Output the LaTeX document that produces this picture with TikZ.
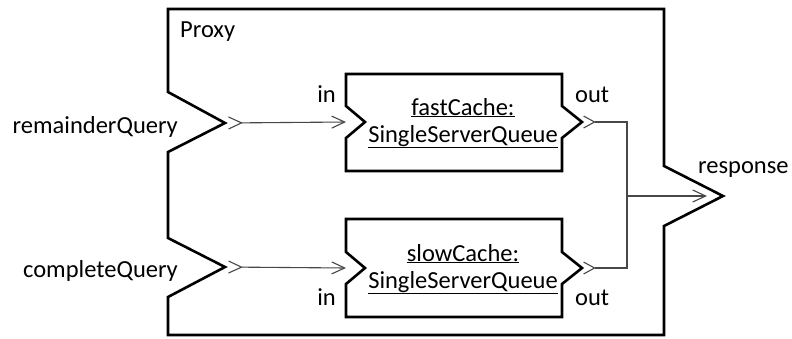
\documentclass[tikz,border=0pt]{standalone}
\usepackage{fontspec}
\setmainfont{Carlito}
\usetikzlibrary{arrows.meta}
\begin{document}
\begin{tikzpicture}[
                x=1pt, y=-1pt,
                every node/.style={inner sep=0pt, font=\fontsize{24.5}{27}\selectfont},
                border/.style={line width=2.6pt, line join=miter},
                conn/.style={line width=1.1pt, draw=black!72},
                barb/.tip={Straight Barb[length=13pt, width=12pt, line width=1.1pt]}
            ]

            \useasboundingbox (0,0) rectangle (792,338);

            % ports
            \coordinate (remainder) at (225,123);
            \coordinate (complete)  at (225,267);
            \coordinate (response)  at (723,196);
            \coordinate (fastIn)    at (346,122);
            \coordinate (fastOut)   at (582,122);
            \coordinate (slowIn)    at (346,268);
            \coordinate (slowOut)   at (582,268);
            \coordinate (join)      at (627,196);

            % proxy
            \draw[border] (168,9) -- (664,9) -- (664,166) -- (response) -- (664,226)
                -- (664,335) -- (168,335) -- (168,297) -- (complete) -- (168,238)
                -- (168,152) -- (remainder) -- (168,92) -- cycle;

            % caches
            \draw[border] (346,74) -- (562,74) -- (562,106) -- (fastOut) -- (562,138)
                -- (562,171) -- (346,171) -- (346,138) -- (365,122) -- (346,106) -- cycle;
            \draw[border] (346,219) -- (562,219) -- (562,252) -- (slowOut) -- (562,284)
                -- (562,317) -- (346,317) -- (346,284) -- (365,268) -- (346,252) -- cycle;

            \node[align=center, anchor=base] (fastCache) at (463,142)
                {\underline{fastCache:}\\\underline{SingleServerQueue}};
            \node[align=center, anchor=base] (slowCache) at (463,288)
                {\underline{slowCache:}\\\underline{SingleServerQueue}};

            % labels
            \node[anchor=base west] (proxyLabel) at (180,37) {Proxy};
            \node[anchor=base east] at (178,133) {remainderQuery};
            \node[anchor=base east] at (178,277) {completeQuery};
            \node[anchor=base west] at (698,173) {response};
            \node[anchor=base east] at (336,102) {in};
            \node[anchor=base west] at (575,102) {out};
            \node[anchor=base east] at (336,305) {in};
            \node[anchor=base west] at (575,305) {out};

            % connectors
            \draw[conn, arrows={barb[reversed]-barb}, shorten <=3pt] (remainder) -- (fastIn);
            \draw[conn, arrows={barb[reversed]-barb}, shorten <=3pt] (complete) -- (slowIn);
            \draw[conn, arrows={barb[reversed, length=11pt]-barb[reversed, length=11pt]},
                shorten <=1pt, shorten >=1pt]
                (fastOut) -| (join) |- (slowOut);
            \draw[conn, arrows={-barb}, shorten >=16pt] (join) -- (response);

        \end{tikzpicture}
\end{document}
